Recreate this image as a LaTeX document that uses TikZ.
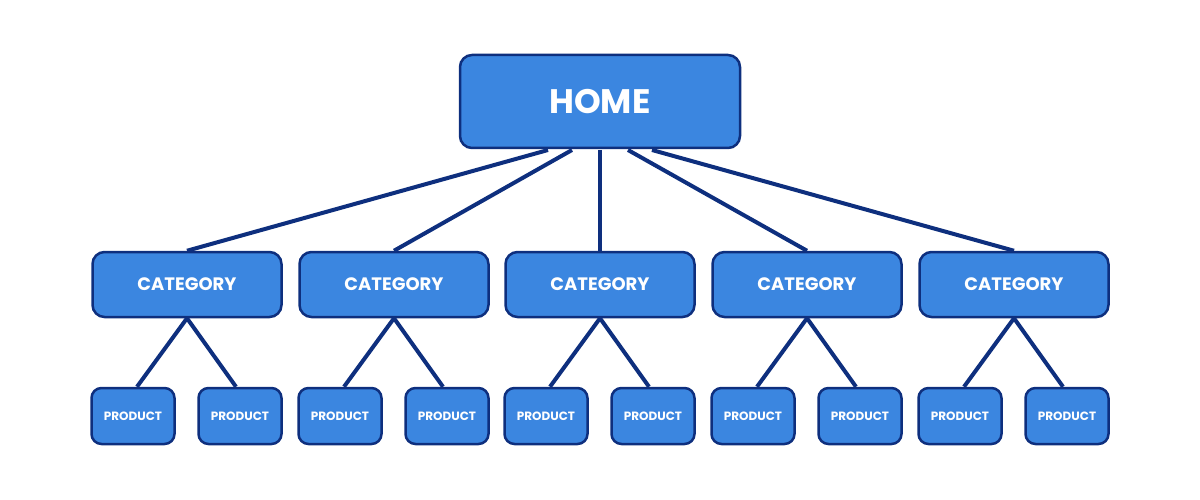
\documentclass[tikz,border=0pt]{standalone}
\usepackage{fontspec}
\setmainfont{Poppins}
\definecolor{boxfill}{HTML}{3B86E0}
\definecolor{boxline}{HTML}{0E2F7E}
\begin{document}
\begin{tikzpicture}[x=1pt,y=-1pt,
  box/.style={draw=boxline,fill=boxfill,line width=2.5pt,rounded corners=12pt,text=white,font=\bfseries,inner sep=0pt,anchor=center},
  edge/.style={draw=boxline,line width=4pt}]
\useasboundingbox (0,0) rectangle (1200,500);
\node[box,minimum width=280pt,minimum height=93pt,font=\fontsize{34}{40}\selectfont\bfseries] (home) at (600,101.5) {HOME};
\foreach \i/\cx in {1/187,2/394,3/600,4/807,5/1014}{
  \node[box,minimum width=189pt,minimum height=65pt,font=\fontsize{18}{22}\selectfont\bfseries] (c\i) at (\cx,284.5) {CATEGORY};
  \node[box,minimum width=83pt,minimum height=56pt,rounded corners=10pt,font=\fontsize{12}{14}\selectfont\bfseries] (p\i a) at (\cx-54,416) {PRODUCT};
  \node[box,minimum width=83pt,minimum height=56pt,rounded corners=10pt,font=\fontsize{12}{14}\selectfont\bfseries] (p\i b) at (\cx+53,416) {PRODUCT};
}
\begin{scope}[on background layer/.try]
\end{scope}
\foreach \i/\hx in {1/548,2/572,3/600,4/628,5/652}{
  \draw[edge] (\hx,150) -- (c\i.north);
}
\foreach \i in {1,...,5}{
  \draw[edge] (c\i.south) -- ([xshift=4pt]p\i a.north);
  \draw[edge] (c\i.south) -- ([xshift=-4pt]p\i b.north);
}
\end{tikzpicture}
\end{document}
